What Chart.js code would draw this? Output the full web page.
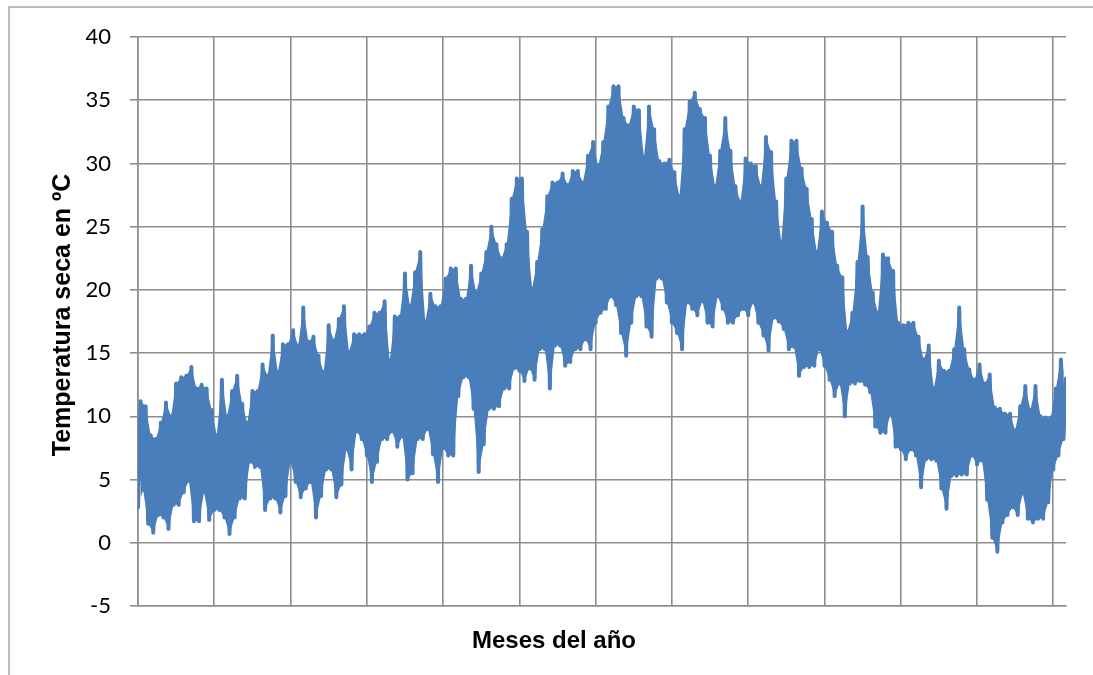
<!DOCTYPE html>
<html lang="es">
<head>
<meta charset="UTF-8">
<title>Temperatura seca anual</title>
<script src="https://cdn.jsdelivr.net/npm/chart.js"></script>
<style>
  html, body { margin: 0; padding: 0; background: #fff; }
  #grafico { display: block; }
</style>
</head>
<body>
<canvas id="grafico" width="1093" height="675"></canvas>

<script>
// Temperatura seca (ºC): minimos y maximos cada 48 horas
const minimas = [
  2.8, 4.2, 1.5, 0.8, 2.2, 2.0, 1.1, 3.0, 3.0, 4.0,
  4.9, 1.7, 1.7, 4.0, 1.8, 2.6, 2.6, 2.0, 0.7, 2.0,
  3.5, 3.5, 6.4, 6.0, 6.0, 2.6, 3.5, 3.5, 2.4, 3.7,
  6.4, 4.8, 3.6, 4.3, 4.8, 2.0, 3.7, 5.8, 5.8, 3.6,
  4.6, 7.4, 5.8, 8.8, 8.2, 6.9, 4.8, 6.4, 8.2, 8.2,
  8.8, 7.6, 8.4, 5.0, 5.5, 8.2, 8.2, 9.0, 7.0, 4.8,
  7.5, 6.9, 6.9, 11.6, 13.1, 13.1, 10.6, 5.6, 7.8, 10.6,
  10.6, 10.8, 12.2, 12.2, 13.8, 13.6, 12.8, 13.8, 12.9, 15.3,
  15.3, 12.2, 15.6, 15.6, 14.0, 14.3, 15.3, 15.3, 16.1, 15.3,
  17.4, 18.2, 18.5, 19.5, 18.8, 16.6, 14.8, 17.4, 19.5, 19.5,
  17.1, 16.3, 20.9, 20.9, 19.0, 17.4, 16.6, 15.3, 19.0, 18.5,
  18.0, 19.1, 17.4, 17.1, 19.5, 18.5, 17.4, 17.4, 18.0, 18.5,
  18.0, 19.0, 17.4, 16.4, 15.2, 17.8, 17.5, 16.9, 15.3, 15.5,
  13.2, 13.9, 13.9, 14.0, 15.3, 14.0, 12.9, 11.6, 12.6, 10.0,
  12.6, 12.6, 12.8, 12.5, 11.9, 9.2, 8.7, 8.7, 10.2, 7.6,
  7.4, 6.6, 7.4, 6.9, 4.4, 6.6, 6.6, 6.5, 4.3, 2.7,
  5.3, 5.3, 5.4, 5.4, 6.9, 6.2, 6.5, 3.4, 0.4, -0.7,
  1.6, 2.2, 2.8, 2.2, 3.9, 1.9, 1.6, 1.9, 1.9, 3.2,
  5.8, 6.9, 8.2
];

const maximas = [
  11.2, 10.8, 8.5, 8.2, 9.5, 11.1, 10.0, 12.6, 13.1, 13.2,
  13.9, 12.2, 12.5, 12.2, 10.5, 8.5, 12.9, 10.0, 12.0, 13.2,
  11.0, 9.5, 12.0, 12.0, 14.1, 13.2, 16.4, 13.5, 15.7, 15.7,
  16.8, 15.6, 18.6, 15.9, 16.3, 14.8, 13.5, 17.2, 16.0, 17.7,
  18.7, 15.1, 16.5, 16.5, 16.5, 17.1, 18.2, 18.2, 19.1, 14.4,
  17.9, 17.9, 21.3, 18.7, 21.4, 23.0, 17.5, 19.7, 18.7, 18.7,
  20.9, 21.7, 21.7, 19.3, 19.3, 21.9, 19.8, 21.3, 23.0, 25.0,
  23.6, 22.5, 23.6, 27.2, 28.8, 28.8, 24.6, 20.1, 22.2, 24.8,
  27.4, 28.5, 28.5, 29.2, 28.3, 29.4, 29.4, 28.5, 30.6, 31.7,
  29.8, 31.7, 34.5, 36.1, 36.1, 33.6, 33.0, 34.5, 34.2, 30.5,
  34.5, 32.7, 30.2, 30.0, 30.3, 29.3, 27.4, 32.7, 34.9, 35.6,
  34.3, 33.6, 30.6, 28.2, 31.0, 33.6, 31.0, 28.2, 27.0, 30.4,
  30.0, 29.8, 28.2, 32.1, 30.9, 27.0, 23.8, 28.8, 31.8, 31.8,
  29.6, 28.0, 25.6, 23.0, 26.2, 25.3, 24.6, 21.9, 21.0, 16.7,
  18.2, 22.2, 26.6, 22.6, 19.8, 18.2, 22.8, 22.5, 21.5, 17.4,
  17.2, 17.4, 17.4, 16.3, 14.5, 15.6, 12.2, 14.4, 13.6, 13.6,
  15.3, 18.6, 15.3, 13.7, 12.9, 14.1, 12.6, 13.3, 10.7, 10.6,
  10.2, 10.2, 8.9, 10.8, 12.4, 10.5, 12.4, 10.0, 9.9, 9.9,
  12.2, 14.5, 13.0
];

// divisiones del eje horizontal (horas) y del eje vertical (ºC)
const marcasX = [0, 720, 1440, 2160, 2880, 3600, 4320, 5040, 5760, 6480, 7200, 7920, 8640];
const marcasY = [-5, 0, 5, 10, 15, 20, 25, 30, 35, 40];
const horasAnio = 8760;
const horasPaso = 24;

const tituloX = 'Meses del año';
const tituloY = 'Temperatura seca en ºC';

// serie: minimo y maximo alternados
let puntos = [];
let puntosMax = [];
let puntosMin = [];
for (let i = 0; i < minimas.length; i++) {
    let hMin = i * 2 * horasPaso;
    let hMax = (i * 2 + 1) * horasPaso;
    puntos.push({ x: hMin, y: minimas[i] });
    puntos.push({ x: hMax, y: maximas[i] });
    puntosMin.push({ x: hMin, y: minimas[i] });
    puntosMax.push({ x: hMax, y: maximas[i] });
}

const azul = '#4a7ebb';
const colorRejilla = '#8e8e8e';

// fondo, marco exterior y titulos de los ejes
const marcoYTitulos = {
    id: 'marcoYTitulos',
    beforeDraw(chart) {
        const ctx = chart.ctx;
        ctx.save();
        ctx.fillStyle = '#ffffff';
        ctx.fillRect(0, 0, chart.width, chart.height);
        ctx.strokeStyle = '#a8a8a8';
        ctx.lineWidth = 1.5;
        ctx.strokeRect(9, 7, chart.width + 20, chart.height + 20);
        ctx.restore();
    },
    afterDraw(chart) {
        const ctx = chart.ctx;
        ctx.save();
        ctx.fillStyle = '#000000';
        ctx.textAlign = 'center';
        ctx.textBaseline = 'middle';
        ctx.font = 'bold 24px "Liberation Sans"';
        ctx.fillText(tituloX, 554, 641);
        ctx.font = 'bold 25px "Liberation Sans"';
        ctx.translate(63, 315);
        ctx.rotate(-Math.PI / 2);
        ctx.fillText(tituloY, 0, 0);
        ctx.restore();
    }
};

const config = {
    type: 'line',
    data: {
        datasets: [{
            label: 'Temperatura seca',
            data: puntos,
            borderColor: azul,
            backgroundColor: azul,
            borderWidth: 4,
            borderJoinStyle: 'round',
            borderCapStyle: 'round',
            pointRadius: 0,
            tension: 0,
            fill: false,
            order: 0
        }, {
            label: 'max',
            data: puntosMax,
            borderWidth: 0,
            borderColor: 'rgba(0,0,0,0)',
            backgroundColor: azul,
            pointRadius: 0,
            tension: 0,
            fill: '+1',
            order: 1
        }, {
            label: 'min',
            data: puntosMin,
            borderWidth: 0,
            borderColor: 'rgba(0,0,0,0)',
            backgroundColor: azul,
            pointRadius: 0,
            tension: 0,
            fill: false,
            order: 2
        }]
    },
    options: {
        responsive: false,
        animation: false,
        layout: { padding: { left: 0, top: 37, right: 27, bottom: 0 } },
        plugins: {
            legend: { display: false },
            tooltip: { enabled: false }
        },
        scales: {
            x: {
                type: 'linear',
                min: 0,
                max: horasAnio,
                afterBuildTicks: (scale) => { scale.ticks = marcasX.map(v => ({ value: v })); },
                afterFit: (scale) => { scale.height = 69; },
                ticks: { display: false },
                grid: { color: colorRejilla, lineWidth: 1.6, drawTicks: false },
                border: { color: colorRejilla, width: 1.6 }
            },
            y: {
                min: -5,
                max: 40,
                afterBuildTicks: (scale) => { scale.ticks = marcasY.map(v => ({ value: v })); },
                afterFit: (scale) => { scale.width = 138; },
                ticks: {
                    color: '#000000',
                    padding: 19,
                    font: { family: 'Lato', size: 22 }
                },
                grid: { color: colorRejilla, lineWidth: 1.6, tickLength: 8 },
                border: { color: colorRejilla, width: 1.6 }
            }
        }
    },
    plugins: [marcoYTitulos]
};

let grafico = new Chart(document.getElementById('grafico'), config);
</script>
</body>
</html>
